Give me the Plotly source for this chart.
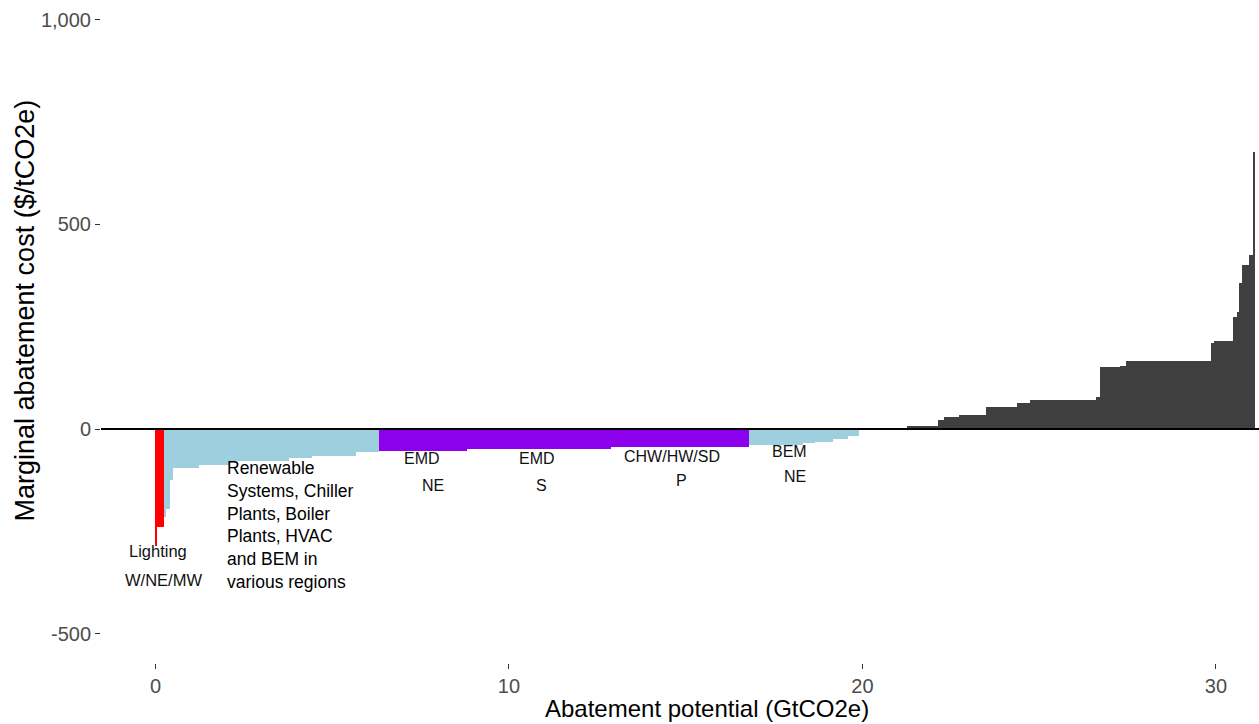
import numpy as np
import plotly.graph_objects as go

# ---- data: abatement potential (GtCO2e) per measure and its marginal cost ($/tCO2e)
widths = [0.035, 0.215,
          0.06, 0.09, 0.11, 0.73, 0.85, 1.70, 0.65, 1.24, 0.65,
          2.48, 4.07, 3.90,
          1.55, 0.34, 0.51, 0.42, 0.29,
          1.13,
          0.25, 0.88, 0.17, 0.42, 0.76, 0.88, 0.37, 1.86, 0.11, 0.57, 0.17, 2.39,
          0.09, 0.54, 0.12, 0.04, 0.09, 0.22, 0.12, 0.05]
costs = [-287, -239,
         -215, -195, -125, -95, -88, -78, -72, -66, -57,
         -53, -49, -45,
         -38, -35, -31, -24, -16,
         0,
         2, 7, 22, 30, 34, 54, 63, 72, 78, 151, 154, 165,
         209, 216, 274, 285, 357, 400, 425, 677]
groups = (["lighting"] * 2 + ["blue"] * 9 + ["purple"] * 3 + ["blue"] * 5
          + ["other"] * 21)

group_colors = {"lighting": "#FF0000", "blue": "#9ECFDF",
                "purple": "#8C00EE", "other": "#3F3F3F"}

x_ticks = [0, 10, 20, 30]
y_ticks = [-500, 0, 500, 1000]
y_ticktext = ["-500", "0", "500", "1,000"]

label_text = ["Lighting", "W/NE/MW", "EMD", "NE", "EMD", "S",
              "CHW/HW/SD", "P", "BEM", "NE"]
label_x = [0.08, 0.24, 7.54, 7.85, 10.80, 10.91, 14.60, 14.88, 17.95, 18.10]
label_y = [-298, -369, -73, -137, -73, -137, -66, -127, -56, -117]
label_size = [16.5, 16.5, 16, 16, 16, 16, 16, 16, 16, 16]

block_text = "Renewable<br>Systems, Chiller<br>Plants, Boiler<br>Plants, HVAC<br>and BEM in<br>various regions"
block_x = 1.98
block_y = -234

# ---- derived positions
w = np.array(widths, dtype=float)
c = np.array(costs, dtype=float)
right = np.cumsum(w)
left = right - w
mid = (left + right) / 2

fig = go.Figure()
for g in ["lighting", "blue", "purple", "other"]:
    idx = [i for i, gg in enumerate(groups) if gg == g]
    fig.add_trace(go.Bar(
        x=mid[idx], y=c[idx], width=w[idx],
        marker=dict(color=group_colors[g], line=dict(width=0)),
        showlegend=False, hoverinfo="skip"))

fig.add_hline(y=0, line=dict(color="black", width=2))

for t, xx, yy, s in zip(label_text, label_x, label_y, label_size):
    fig.add_annotation(x=xx, y=yy, text=t, showarrow=False, xanchor="center",
                       yanchor="middle", font=dict(size=s, color="#111111",
                                                   family="Liberation Sans, Arial"))
fig.add_annotation(x=block_x, y=block_y, text=block_text, showarrow=False,
                   xanchor="left", yanchor="middle", align="left",
                   font=dict(size=17.5, color="#000000", family="Liberation Sans, Arial"))

# axis titles
fig.add_annotation(xref="paper", yref="paper", x=0.523, y=-0.069,
                   text="Abatement potential (GtCO2e)", showarrow=False,
                   xanchor="center", yanchor="middle",
                   font=dict(size=24, color="#000000", family="Liberation Sans, Arial"))
fig.add_annotation(xref="paper", yref="paper", x=-0.066, y=0.531,
                   text="Marginal abatement cost ($/tCO2e)", showarrow=False,
                   textangle=-90, xanchor="center", yanchor="middle",
                   font=dict(size=27, color="#000000", family="Liberation Sans, Arial"))

fig.update_layout(
    width=1259, height=724,
    margin=dict(l=101, r=0, t=0, b=61),
    plot_bgcolor="white", paper_bgcolor="white",
    barmode="overlay", bargap=0,
    font=dict(family="Liberation Sans, Arial", color="#4D4D4D"),
    xaxis=dict(range=[-1.54, 31.22], tickvals=x_ticks, ticks="outside",
               ticklen=5, tickwidth=1, tickcolor="#333333", showgrid=False,
               zeroline=False, showline=False,
               tickfont=dict(size=20, color="#4D4D4D")),
    yaxis=dict(range=[-571.7, 1048.1], tickvals=y_ticks, ticktext=y_ticktext,
               ticks="outside", ticklen=5, tickwidth=1, tickcolor="#333333",
               showgrid=False, zeroline=False, showline=False,
               tickfont=dict(size=20, color="#4D4D4D")),
)

fig.write_html("out.html")
